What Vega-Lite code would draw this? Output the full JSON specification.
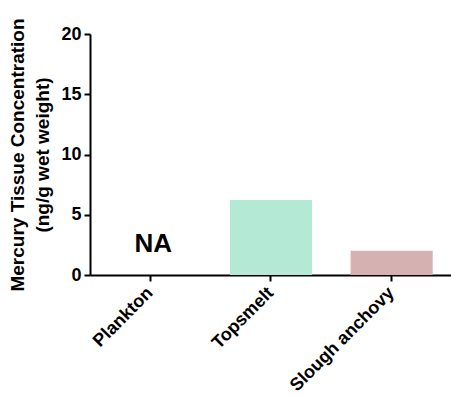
{
  "$schema": "https://vega.github.io/schema/vega-lite/v6.json",
  "autosize": {"type": "none"},
  "padding": {"left": 90, "top": 34, "right": 0, "bottom": 122},
  "width": 362,
  "height": 241,
  "config": {
    "view": {"stroke": null},
    "font": "Liberation Sans",
    "axis": {
      "domainColor": "black", "domainWidth": 2, "tickColor": "black", "tickWidth": 2, "tickSize": 6,
      "labelColor": "black", "labelFont": "Liberation Sans", "labelFontWeight": "bold",
      "titleColor": "black", "titleFont": "Liberation Sans", "titleFontWeight": "bold", "grid": false
    }
  },
  "data": {"values": [
    {"species": "Plankton", "hg": null, "label": "NA"},
    {"species": "Topsmelt", "hg": 6.22, "label": ""},
    {"species": "Slough anchovy", "hg": 2.02, "label": ""}
  ]},
  "layer": [
    {
      "mark": {"type": "bar"},
      "encoding": {
        "x": {"field": "species", "type": "nominal",
              "sort": ["Plankton", "Topsmelt", "Slough anchovy"],
              "scale": {"domain": ["Plankton", "Topsmelt", "Slough anchovy"], "paddingInner": 0.32, "paddingOuter": 0.16},
              "axis": {"title": null, "labelAngle": -45, "labelAlign": "right", "labelBaseline": "middle", "labelFontSize": 18, "labelPadding": 9}},
        "y": {"field": "hg", "type": "quantitative",
              "scale": {"domain": [0, 20], "nice": false},
              "axis": {"values": [0, 5, 10, 15, 20], "labelFontSize": 18, "labelPadding": 3,
                       "title": ["Mercury Tissue Concentration", "(ng/g wet weight)"],
                       "titleFontSize": 19, "titleLineHeight": 25, "titlePadding": 8}},
        "color": {"field": "species", "type": "nominal", "legend": null,
                  "scale": {"domain": ["Plankton", "Topsmelt", "Slough anchovy"], "range": ["#ffffff", "#b4e9d6", "#d6b1b1"]}}
      }
    },
    {
      "mark": {"type": "text", "fontSize": 26, "fontWeight": "bold", "baseline": "alphabetic", "dy": -23, "dx": 3, "color": "black"},
      "encoding": {
        "x": {"field": "species", "type": "nominal", "sort": ["Plankton", "Topsmelt", "Slough anchovy"]},
        "y": {"datum": 0},
        "text": {"field": "label"}
      }
    }
  ]
}
